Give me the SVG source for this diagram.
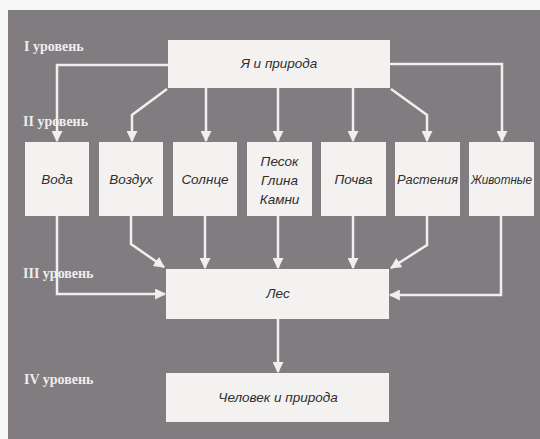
<svg xmlns="http://www.w3.org/2000/svg" width="540" height="439" viewBox="0 0 540 439">
<style>
.box{fill:#f3f2f0;}
.t{font-family:"Liberation Sans",Arial,sans-serif;font-style:italic;font-size:13.5px;fill:#2e2e2e;text-anchor:middle;}
.lvl{font-family:"Liberation Serif","Times New Roman",serif;font-weight:bold;font-size:14px;fill:#eeeeee;}
.c{fill:none;stroke:#efefef;stroke-width:2.5;marker-end:url(#ah);}
</style>
<defs>
<marker id="ah" viewBox="0 0 10 10" refX="9" refY="5" markerWidth="4.4" markerHeight="4.4" orient="auto" markerUnits="strokeWidth">
<path d="M0,0 L10,5 L0,10 Z" fill="#efefef"/>
</marker>
</defs>
<rect x="0" y="0" width="540" height="439" fill="#f6f6f6"/>
<rect x="8" y="10" width="532" height="429" fill="#807c80"/>
<g id="levels">
<text class="lvl" x="24" y="51">I уровень</text>
<text class="lvl" x="23" y="126">II уровень</text>
<text class="lvl" x="23" y="278">III уровень</text>
<text class="lvl" x="24" y="384">IV уровень</text>
</g>
<g id="connectors">
<polyline class="c" points="168,65 57,65 57,141"/>
<polyline class="c" points="167,89 132,115 132,141"/>
<line class="c" x1="206" y1="88" x2="206" y2="141"/>
<line class="c" x1="278" y1="88" x2="278" y2="141"/>
<line class="c" x1="353" y1="88" x2="353" y2="141"/>
<polyline class="c" points="391,89 427,115 427,141"/>
<polyline class="c" points="390,64 502,64 502,141"/>
<polyline class="c" points="57,216 57,294 165,294"/>
<polyline class="c" points="131,216 131,244 164,267"/>
<line class="c" x1="205" y1="216" x2="205" y2="268"/>
<line class="c" x1="278" y1="216" x2="278" y2="268"/>
<line class="c" x1="353" y1="216" x2="353" y2="268"/>
<polyline class="c" points="427,216 427,245 391,268"/>
<polyline class="c" points="501,216 501,295 390,295"/>
<line class="c" x1="278" y1="319" x2="278" y2="372"/>
</g>
<g id="top"><rect class="box" x="168" y="40" width="222" height="48"/><text class="t" x="279" y="68">Я и природа</text></g>
<g id="voda"><rect class="box" x="25" y="142" width="64" height="74"/><text class="t" x="57" y="184">Вода</text></g>
<g id="vozduh"><rect class="box" x="99" y="142" width="64" height="74"/><text class="t" x="131" y="184">Воздух</text></g>
<g id="solnce"><rect class="box" x="173" y="142" width="64" height="74"/><text class="t" x="205" y="184">Солнце</text></g>
<g id="pesok"><rect class="box" x="247" y="142" width="65" height="74"/><text class="t" x="279.5" y="166">Песок</text><text class="t" x="279.5" y="185">Глина</text><text class="t" x="279.5" y="204">Камни</text></g>
<g id="pochva"><rect class="box" x="321" y="142" width="65" height="74"/><text class="t" x="353.5" y="184">Почва</text></g>
<g id="rasteniya"><rect class="box" x="395" y="142" width="65" height="74"/><text class="t" x="427.5" y="184" textLength="61" lengthAdjust="spacingAndGlyphs">Растения</text></g>
<g id="zhivotnye"><rect class="box" x="469" y="142" width="65" height="74"/><text class="t" x="501.5" y="184" textLength="61" lengthAdjust="spacingAndGlyphs">Животные</text></g>
<g id="les"><rect class="box" x="166" y="269" width="223" height="50"/><text class="t" x="278" y="298">Лес</text></g>
<g id="chelovek"><rect class="box" x="166" y="373" width="223" height="49"/><text class="t" x="278" y="402">Человек и природа</text></g>
</svg>
